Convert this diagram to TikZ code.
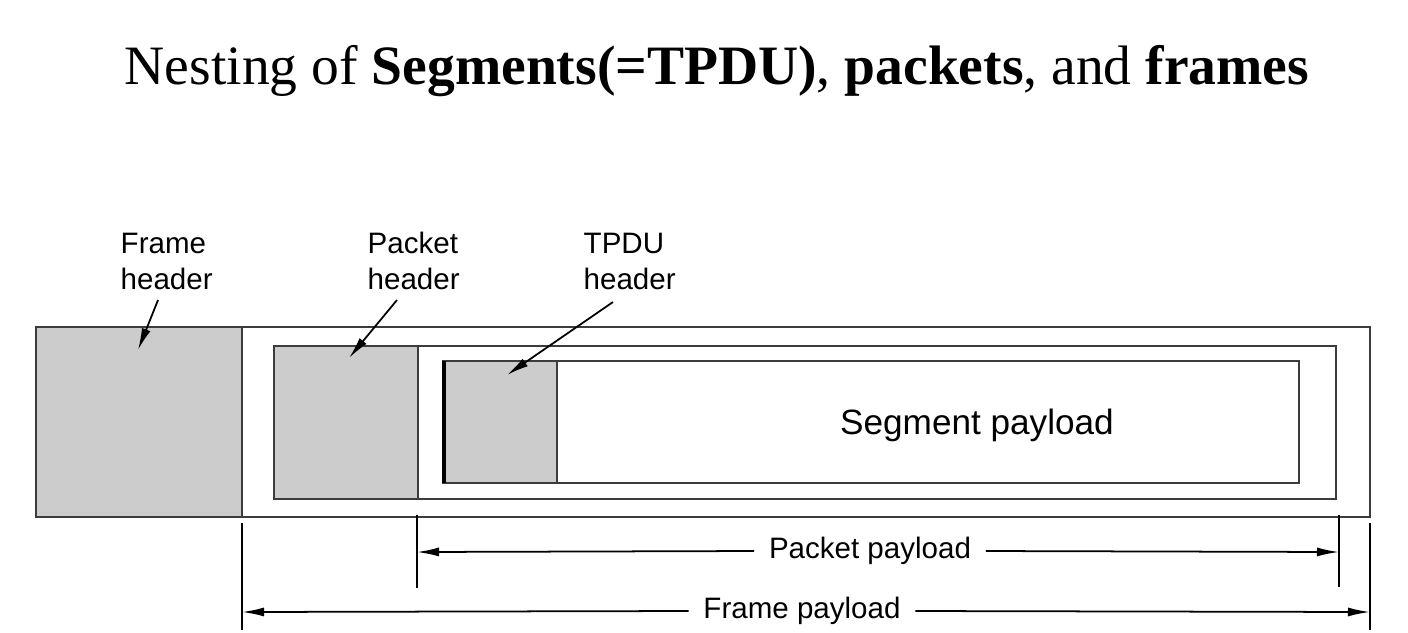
\documentclass[tikz,border=0pt]{standalone}
\usepackage{fontspec}
\setmainfont{Liberation Serif}
\newfontfamily\labelfont{Liberation Sans}
\usetikzlibrary{arrows.meta}
\tikzset{>={Latex[length=2.2mm,width=0.9mm]}}
\definecolor{hdrgrey}{RGB}{204,204,204}
\definecolor{boxline}{RGB}{60,60,60}
\tikzstyle{boxline}=[draw=boxline,line width=0.6pt]
\tikzstyle{hdrbox}=[boxline,fill=hdrgrey]
\tikzstyle{lbl}=[font=\labelfont\fontsize{8.4}{10}\selectfont,align=left]
\tikzstyle{pointer}=[->,line width=0.5pt]

\begin{document}
\begin{tikzpicture}[x=0.01cm,y=-0.01cm]
  \useasboundingbox (0,0) rectangle (1408,632);
  \node (title) at (717,71) {\fontsize{15.8}{19}\selectfont Nesting of \textbf{Segments(=TPDU)}, \textbf{packets}, and \textbf{frames}};

  % frame
  \draw[boxline] (36,327) rectangle (1370,517);
  \draw[hdrbox] (36,327) rectangle (242,517);
  % packet
  \draw[boxline] (274,346) rectangle (1336,499);
  \draw[hdrbox] (274,346) rectangle (418,499);
  % segment
  \draw[boxline,fill=white] (443,361) rectangle (1299,483);
  \draw[hdrbox] (443,361) rectangle (557,483);
  \draw[line width=1.2pt] (444,361) -- (444,483);
  \node (segpay) at (977,425) {\labelfont\fontsize{10}{12}\selectfont Segment payload};

  % header labels
  \node[lbl,anchor=base west,inner sep=0pt] (fhdr) at (120,289) {Frame\\header};
  \node[lbl,anchor=base west,inner sep=0pt] (phdr) at (367,289) {Packet\\header};
  \node[lbl,anchor=base west,inner sep=0pt] (thdr) at (583,289) {TPDU\\header};
  \coordinate (fhdr-tip) at (138,350);
  \coordinate (phdr-tip) at (349,358);
  \coordinate (thdr-tip) at (507,375);
  \draw[pointer] (158,300) -- (fhdr-tip);
  \draw[pointer] (397,300) -- (phdr-tip);
  \draw[pointer] (613,302) -- (thdr-tip);

  % payload dimensions
  \draw[line width=0.5pt] (417,515) -- (417,588);
  \draw[line width=0.5pt] (1339,515) -- (1339,587);
  \draw[line width=0.5pt] (242,523) -- (242,630);
  \draw[line width=0.5pt] (1370,523) -- (1370,630);
  \coordinate (ppay-l) at (417,552);
  \coordinate (ppay-r) at (1339,552);
  \coordinate (fpay-l) at (242,612);
  \coordinate (fpay-r) at (1370,612);
  \node[lbl,fill=white,inner xsep=4pt] (ppay) at (870,551) {Packet payload};
  \node[lbl,fill=white,inner xsep=4pt] (fpay) at (802,611) {Frame payload};
  \draw[pointer] (ppay.west) -- (ppay-l);
  \draw[pointer] (ppay.east) -- (ppay-r);
  \draw[pointer] (fpay.west) -- (fpay-l);
  \draw[pointer] (fpay.east) -- (fpay-r);
\end{tikzpicture}
\end{document}
